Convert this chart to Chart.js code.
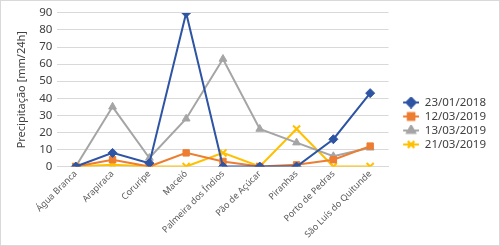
<!DOCTYPE html>
<html>
<head>
<meta charset="utf-8">
<script src="https://cdn.jsdelivr.net/npm/chart.js@4.4.0/dist/chart.umd.min.js"></script>
<style>
  html, body { margin: 0; padding: 0; background: #fff; }
  #wrap { position: relative; width: 498px; height: 244px; border: 1px solid #d9d9d9; }
</style>
</head>
<body>
<div id="wrap"><canvas id="chuva"></canvas></div>
<script>
var cidades = ['Água Branca', 'Arapiraca', 'Coruripe', 'Maceió', 'Palmeira dos Índios',
  'Pão de Açúcar', 'Piranhas', 'Porto de Pedras', 'São Luís do Quitunde'];
var ticksY = [0, 10, 20, 30, 40, 50, 60, 70, 80, 90];
var chuva230118 = [0, 8, 2, 90, 0, 0, 0, 16, 43];
var chuva120319 = [0, 4, 0, 8, 3, 0, 1, 4, 12];
var chuva130319 = [0, 35, 5, 28, 63, 22, 14, 6, 11];
var chuva210319 = [0, 1, 0, 0, 8, 0, 22, 0, 0];

var cores = ['#2E54A4', '#ED7D31', '#A5A5A5', '#FFC000'];
var marcadores = ['rectRot', 'rect', 'triangle', 'crossRot'];

// pequeno desenho de linha + marcador para a legenda (estilo Excel)
// os 12px transparentes à esquerda afastam a legenda do gráfico
function iconeLegenda(cor, estilo) {
  var c = document.createElement('canvas');
  c.width = 28; c.height = 12;
  var g = c.getContext('2d');
  g.strokeStyle = cor; g.fillStyle = cor; g.lineWidth = 2;
  g.beginPath(); g.moveTo(12, 6); g.lineTo(28, 6); g.stroke();
  Chart.helpers.drawPoint(g, { pointStyle: estilo, radius: 4.5, borderWidth: 2, rotation: 0 }, 20, 6);
  g.fill(); g.stroke();
  return c;
}

function serie(nome, dados, i) {
  return {
    label: nome,
    data: dados,
    borderColor: cores[i],
    backgroundColor: cores[i],
    borderWidth: 2,
    pointStyle: marcadores[i],
    pointRadius: i === 3 ? 5 : 4.5,
    pointBorderWidth: i === 3 ? 2 : 1,
    pointBorderColor: cores[i],
    pointBackgroundColor: cores[i],
    tension: 0
  };
}

var ctx = document.getElementById('chuva').getContext('2d');
var grafico = new Chart(ctx, {
  type: 'line',
  data: {
    labels: cidades,
    datasets: [
      serie('23/01/2018', chuva230118, 0),
      serie('12/03/2019', chuva120319, 1),
      serie('13/03/2019', chuva130319, 2),
      serie('21/03/2019', chuva210319, 3)
    ]
  },
  options: {
    responsive: true,
    maintainAspectRatio: false,
    animation: false,
    layout: { padding: { top: 4, left: 14, right: 3, bottom: 3 } },
    scales: {
      x: {
        offset: true,
        grid: { display: false, drawTicks: false },
        border: { color: '#d9d9d9' },
        ticks: {
          color: '#595959',
          font: { family: 'Noto Sans', size: 9 },
          minRotation: 45, maxRotation: 45,
          autoSkip: false, padding: 2
        }
      },
      y: {
        min: 0, max: 90,
        afterBuildTicks: function (ax) { ax.ticks = ticksY.map(function (v) { return { value: v }; }); },
        grid: { color: '#d9d9d9', drawTicks: false },
        border: { display: false },
        ticks: { color: '#404040', font: { family: 'Noto Sans', size: 11.5 }, padding: 5, autoSkip: false },
        title: {
          display: true,
          text: 'Precipitação [mm/24h]',
          color: '#404040',
          padding: { top: 0, bottom: 6 },
          font: { family: 'Noto Sans', size: 11 }
        }
      }
    },
    plugins: {
      legend: {
        position: 'right',
        labels: {
          usePointStyle: true,
          pointStyleWidth: 28,
          color: '#404040',
          font: { family: 'Noto Sans', size: 11.5 },
          padding: 2.5,
          generateLabels: function (chart) {
            return chart.data.datasets.map(function (ds, i) {
              return {
                text: ds.label,
                pointStyle: iconeLegenda(cores[i], marcadores[i]),
                fillStyle: cores[i], strokeStyle: cores[i],
                fontColor: '#404040',
                datasetIndex: i, hidden: false, lineWidth: 0
              };
            });
          }
        }
      },
      tooltip: { enabled: false }
    }
  }
});
</script>
</body>
</html>
